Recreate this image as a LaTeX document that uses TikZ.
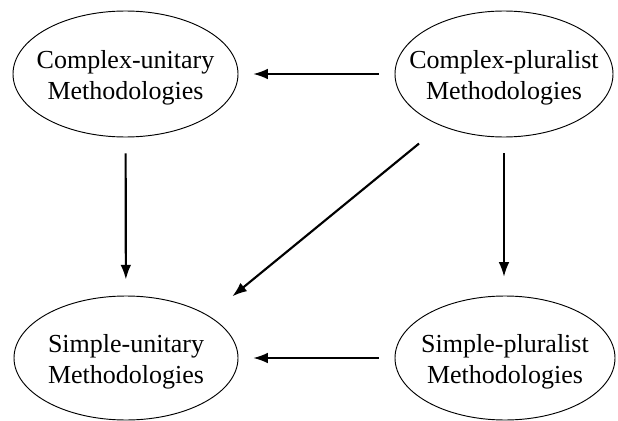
\documentclass[tikz,border=0pt]{standalone}
\usepackage{fontspec}
\setmainfont{Liberation Serif}
\usetikzlibrary{arrows.meta,shapes.geometric}
\newcommand{\toprow}{\rule{0pt}{19pt}}

\begin{document}
\begin{tikzpicture}[x=0.75pt,y=-0.75pt,>={Latex[length=11pt,width=8pt]},
  font=\fontsize{19.5}{23.5}\selectfont,
  method/.style={ellipse,draw,line width=0.7pt,inner xsep=-30pt,inner ysep=-5pt,align=center,minimum height=94.5pt},
  arr/.style={->,line width=1.6pt}]
\useasboundingbox (0,0) rectangle (618,421);
\node[method,minimum width=168.75pt] (cu) at (125.5,74) {\toprow Complex-unitary\\Methodologies};
\node[method,minimum width=163.5pt] (cp) at (504,74) {\toprow Complex-pluralist\\Methodologies};
\node[method,minimum width=168pt,minimum height=93pt] (su) at (126,358) {\toprow Simple-unitary\\Methodologies};
\node[method,minimum width=165pt,minimum height=93pt] (sp) at (505,358) {\toprow Simple-pluralist\\Methodologies};
\draw[arr,shorten <=12pt,shorten >=11pt] (cp) -- (cu);
\draw[arr,shorten <=12pt,shorten >=11pt] (sp) -- (su);
\draw[arr,shorten <=12pt,shorten >=12pt] (cu) -- (su);
\draw[arr,shorten <=12pt,shorten >=14pt] (cp) -- (cp |- su.north);
\draw[arr,shorten <=21pt,shorten >=73pt] (cp) -- ([xshift=23.25pt]su.center);
\end{tikzpicture}
\end{document}
